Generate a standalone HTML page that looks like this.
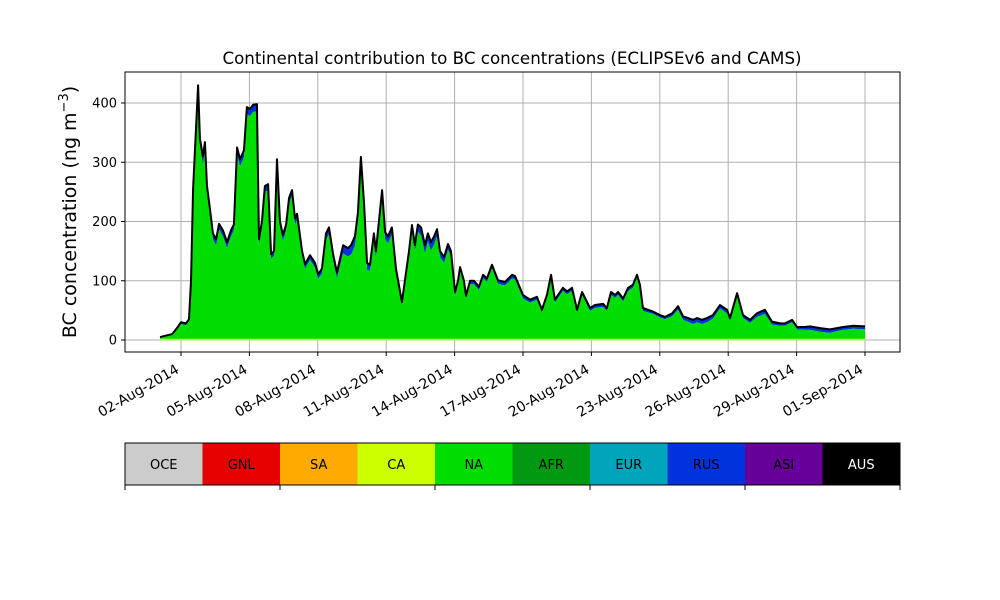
<!DOCTYPE html>
<html><head><meta charset="utf-8"><style>
body{margin:0;background:#fff;}
svg{display:block;font-family:"DejaVu Sans","Liberation Sans",sans-serif;}
</style></head><body>
<svg id="chart" width="1000" height="600" viewBox="0 0 1000 600"></svg>
<script>
const days=[1.08,1.61,1.82,2.0,2.22,2.35,2.44,2.53,2.75,2.83,
2.96,3.05,3.14,3.27,3.40,3.54,3.67,3.84,4.02,4.19,
4.32,4.46,4.59,4.76,4.89,5.03,5.16,5.33,5.42,5.55,
5.68,5.82,5.95,6.08,6.21,6.34,6.47,6.61,6.74,6.87,
7.00,7.09,7.31,7.44,7.66,7.88,8.01,8.18,8.36,8.49,
8.67,8.84,9.11,9.32,9.46,9.63,9.76,9.89,10.03,10.16,
10.29,10.46,10.55,10.68,10.82,10.95,11.08,11.25,11.43,11.69,
11.82,12.0,12.13,12.26,12.39,12.53,12.70,12.83,12.96,13.10,
13.23,13.36,13.54,13.71,13.84,14.02,14.15,14.24,14.41,14.50,
14.68,14.85,15.07,15.25,15.42,15.64,15.90,16.21,16.52,16.65,
17.0,17.31,17.61,17.83,18.05,18.23,18.40,18.75,18.93,19.15,
19.37,19.59,19.94,20.16,20.51,20.68,20.86,21.04,21.17,21.39,
21.61,21.82,22.0,22.13,22.26,22.70,23.01,23.23,23.54,23.80,
24.02,24.46,24.63,24.85,25.07,25.33,25.64,25.95,26.08,26.39,
26.65,26.96,27.26,27.61,27.92,28.27,28.49,28.80,29.02,29.37,
29.59,30.03,30.46,30.77,31.04,31.48,32.0];
const total=[5,10,20,30,28,35,100,255,430,340,
310,334,260,221,180,170,196,185,165,185,
195,325,305,320,393,390,397,398,170,200,
260,263,145,150,305,200,177,195,240,253,
205,213,150,128,143,130,111,120,180,190,
145,114,160,155,160,175,215,309,230,130,
127,180,150,200,253,182,175,190,120,64,
100,150,194,160,195,190,160,180,165,175,
187,150,140,162,150,81,100,123,100,75,
100,100,90,110,104,127,101,98,110,108,
76,68,73,51,76,110,68,88,82,88,
51,81,54,59,61,54,81,76,81,70,
88,93,110,93,54,48,42,39,45,57,
40,34,37,34,37,42,59,51,37,79,
42,34,45,51,31,28,28,34,22,22,
23,20,18,20,22,24,23];
const rus=[1,1,2,3,3,3,4,8,12,12,
14,14,12,12,10,10,10,10,10,10,
10,12,12,12,12,12,12,12,10,10,
10,10,8,8,10,10,10,10,10,10,
10,10,8,8,8,8,8,8,10,12,
12,10,14,14,16,16,16,14,14,12,
10,12,12,12,12,12,12,12,8,6,
6,8,10,10,12,14,14,14,14,14,
12,10,10,10,8,6,6,6,6,6,
6,6,6,6,6,6,6,6,6,6,
6,5,5,5,5,5,5,5,5,5,
5,5,5,5,5,5,5,5,5,5,
5,5,5,5,5,4,4,4,5,6,
6,7,7,7,7,6,6,6,5,5,
5,5,6,7,5,4,4,4,4,5,
6,6,6,5,5,5,5];
const yTicks=[0,100,200,300,400];
const xTickDays=[2,5,8,11,14,17,20,23,26,29,32];
const xTickLabels=["02-Aug-2014","05-Aug-2014","08-Aug-2014","11-Aug-2014","14-Aug-2014","17-Aug-2014","20-Aug-2014","23-Aug-2014","26-Aug-2014","29-Aug-2014","01-Sep-2014"];
const regions=["OCE","GNL","SA","CA","NA","AFR","EUR","RUS","ASI","AUS"];
const regionColors=["#cccccc","#e60000","#ffaa00","#ccff00","#00dd00","#009911","#00a5bb","#0033dd","#660099","#000000"];
const regionText=["#000","#000","#000","#000","#000","#000","#000","#000","#000","#fff"];

const NS="http://www.w3.org/2000/svg";
const svg=document.getElementById('chart');
const PL=125,PR=900,PT=72,PB=352;
const X=d=>181+(d-2)*22.8;
const Y=v=>340-v*0.5925;
function el(t,a,p){const e=document.createElementNS(NS,t);for(const k in a)e.setAttribute(k,a[k]);(p||svg).appendChild(e);return e;}

yTicks.forEach(v=>{const l=el('line',{x1:PL,x2:PR,y1:Y(v),y2:Y(v),stroke:'#b0b0b0','stroke-width':1});

});
xTickDays.forEach(d=>{const l=el('line',{x1:X(d),x2:X(d),y1:PT,y2:PB,stroke:'#b0b0b0','stroke-width':1});

});

let naPts=days.map((d,i)=>X(d)+','+Y(total[i]-rus[i])).join(' ');
let base=X(days[days.length-1])+','+Y(0)+' '+X(days[0])+','+Y(0);
let rusPts=days.map((d,i)=>X(d)+','+Y(total[i])).join(' ');
let naBottomRev=days.map((d,i)=>X(d)+','+Y(total[i]-rus[i])).reverse().join(' ');
const ra=el('polygon',{points:rusPts+' '+naBottomRev,fill:'#0033dd'});


const na=el('polygon',{points:naPts+' '+base,fill:'#00dd00'});


const cl=el('line',{x1:X(days[0]),x2:X(days[days.length-1]),y1:Y(0)-0.5,y2:Y(0)-0.5,stroke:'#ccff00','stroke-width':1.5});


const tl=el('polyline',{points:rusPts,fill:'none',stroke:'#000','stroke-width':2,'stroke-linejoin':'round'});



const fr=el('rect',{x:PL,y:PT,width:PR-PL,height:PB-PT,fill:'none',stroke:'#000','stroke-width':1});



yTicks.forEach(v=>{el('line',{x1:PL-4,x2:PL,y1:Y(v),y2:Y(v),stroke:'#000'});
const t=el('text',{x:PL-8,y:Y(v)+4.5,'text-anchor':'end','font-size':13});t.textContent=v;

});
xTickDays.forEach((d,i)=>{el('line',{x1:X(d),x2:X(d),y1:PB,y2:PB+4,stroke:'#000'});
const tx=X(d)-1,ty=PB+20;
const t=el('text',{x:tx,y:ty,'text-anchor':'end','font-size':14,transform:`rotate(-30 ${tx} ${ty})`});t.textContent=xTickLabels[i];

});

const ti=el('text',{x:512,y:64,'text-anchor':'middle','font-size':16.7});ti.textContent='Continental contribution to BC concentrations (ECLIPSEv6 and CAMS)';


const yl=el('text',{x:0,y:0,'text-anchor':'middle','font-size':19,transform:'translate(76 212) rotate(-90)'});
yl.innerHTML='BC concentration (ng m<tspan dy="-8" font-size="13">−3</tspan><tspan dy="8">)</tspan>';



const w=(PR-PL)/regions.length;
regions.forEach((r,i)=>{const b=el('rect',{x:PL+i*w,y:443,width:w,height:42,fill:regionColors[i]});


const t=el('text',{x:PL+i*w+w/2,y:469,'text-anchor':'middle','font-size':13,fill:regionText[i]});t.textContent=r;

});
el('rect',{x:PL,y:443,width:PR-PL,height:42,fill:'none',stroke:'#000','stroke-width':1});
[0,2,4,6,8,10].forEach(i=>el('line',{x1:PL+i*w,x2:PL+i*w,y1:485,y2:490,stroke:'#000'}));
</script>
</body></html>
